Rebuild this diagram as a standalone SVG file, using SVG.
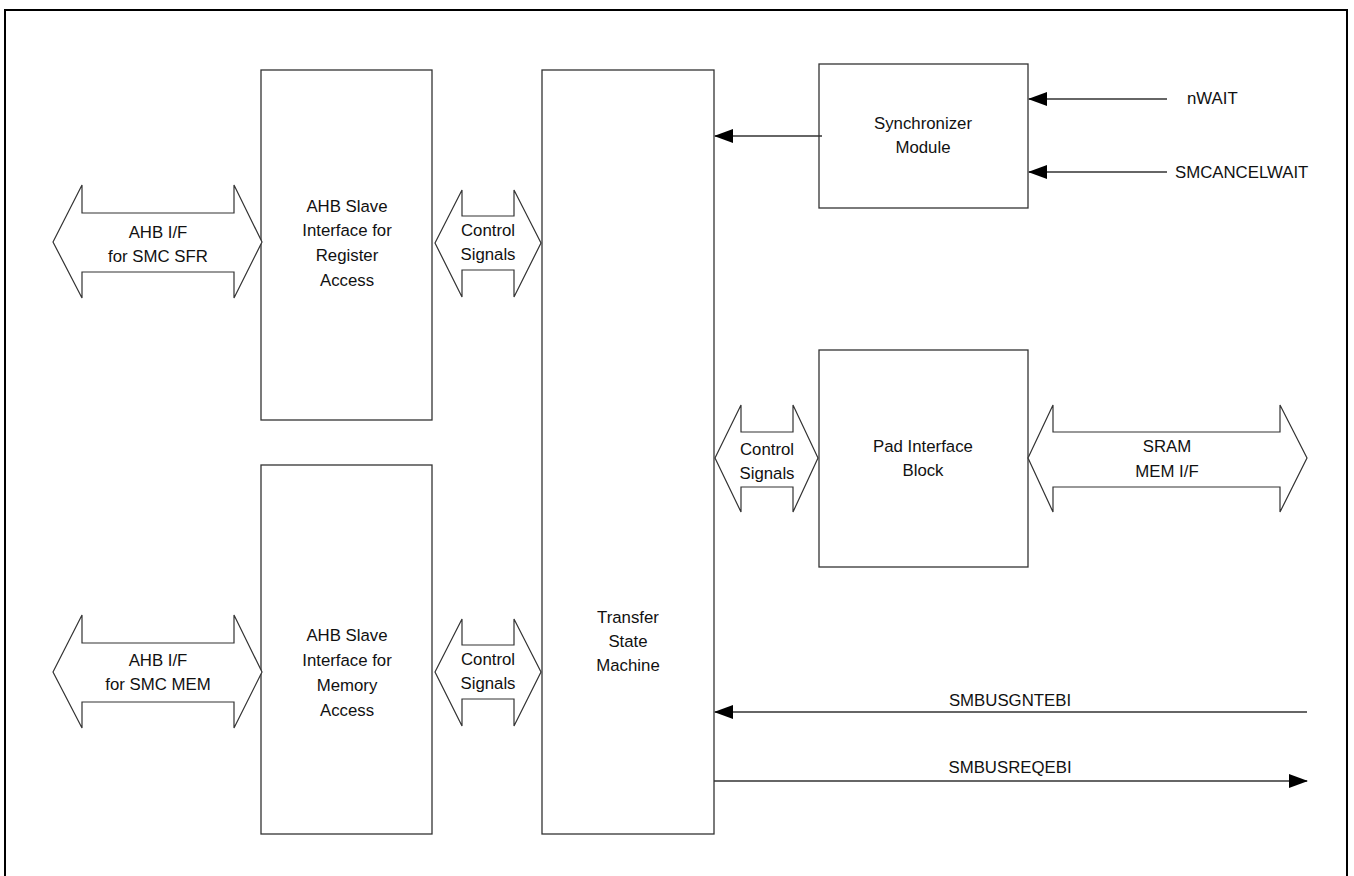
<svg xmlns="http://www.w3.org/2000/svg" width="1354" height="876" viewBox="0 0 1354 876">
<defs>
<style>
.blk{fill:#fff;stroke:#333;stroke-width:1.3}
.bus{fill:#fff;stroke:#333;stroke-width:1.2}
.ln{stroke:#333;stroke-width:1.3;fill:none}
text{font-family:"Liberation Sans",Arial,sans-serif;font-size:16.8px;fill:#111;text-anchor:middle}
.l{text-anchor:start}
</style>
<marker id="ah" markerWidth="19" markerHeight="14" refX="18" refY="7" orient="auto" markerUnits="userSpaceOnUse">
<path d="M0,0 L19,7 L0,14 Z" fill="#000"/>
</marker>
</defs>
<rect x="0" y="0" width="1354" height="876" fill="#fff"/>
<rect x="5" y="10" width="1342" height="880" fill="none" stroke="#000" stroke-width="2"/>

<g id="ahb-reg">
<rect class="blk" x="261" y="70" width="171" height="350"/>
<text x="347" y="212">AHB Slave</text>
<text x="347" y="236">Interface for</text>
<text x="347" y="261">Register</text>
<text x="347" y="286">Access</text>
</g>
<g id="ahb-mem">
<rect class="blk" x="261" y="465" width="171" height="369"/>
<text x="347" y="641">AHB Slave</text>
<text x="347" y="666">Interface for</text>
<text x="347" y="691">Memory</text>
<text x="347" y="716">Access</text>
</g>
<g id="tsm">
<rect class="blk" x="542" y="70" width="172" height="764"/>
<text x="628" y="623">Transfer</text>
<text x="628" y="647">State</text>
<text x="628" y="671">Machine</text>
</g>
<g id="sync">
<rect class="blk" x="819" y="64" width="209" height="144"/>
<text x="923" y="129">Synchronizer</text>
<text x="923" y="153">Module</text>
</g>
<g id="pad">
<rect class="blk" x="819" y="350" width="209" height="217"/>
<text x="923" y="452">Pad Interface</text>
<text x="923" y="476">Block</text>
</g>

<g id="connectors">
<path class="bus" d="M53,242 L82,185 L82,213 L234,213 L234,185 L262,242 L234,298 L234,272 L82,272 L82,298 Z"/>
<text x="158" y="238">AHB I/F</text>
<text x="158" y="262">for SMC SFR</text>
<path class="bus" d="M53,672 L82,615 L82,643 L234,643 L234,615 L262,672 L234,728 L234,702 L82,702 L82,728 Z"/>
<text x="158" y="666">AHB I/F</text>
<text x="158" y="690">for SMC MEM</text>
<path class="bus" d="M435,243 L462,190 L462,216 L514,216 L514,190 L541,243 L514,297 L514,270 L462,270 L462,297 Z"/>
<text x="488" y="236">Control</text>
<text x="488" y="260">Signals</text>
<path class="bus" d="M435,672 L462,619 L462,645 L514,645 L514,619 L541,672 L514,726 L514,699 L462,699 L462,726 Z"/>
<text x="488" y="665">Control</text>
<text x="488" y="689">Signals</text>
<path class="bus" d="M715,458 L741,405 L741,432 L793,432 L793,405 L818,458 L793,512 L793,487 L741,487 L741,512 Z"/>
<text x="767" y="455">Control</text>
<text x="767" y="479">Signals</text>
<path class="bus" d="M1028,458 L1053,405 L1053,432 L1280,432 L1280,405 L1307,458 L1280,512 L1280,487 L1053,487 L1053,512 Z"/>
<text x="1167" y="452">SRAM</text>
<text x="1167" y="477">MEM I/F</text>

<line class="ln" x1="822" y1="136" x2="715" y2="136" marker-end="url(#ah)"/>
<line class="ln" x1="1167" y1="99" x2="1029" y2="99" marker-end="url(#ah)"/>
<text class="l" x="1187" y="104">nWAIT</text>
<line class="ln" x1="1167" y1="172" x2="1029" y2="172" marker-end="url(#ah)"/>
<text class="l" x="1175" y="178">SMCANCELWAIT</text>
<line class="ln" x1="1307" y1="712" x2="715" y2="712" marker-end="url(#ah)"/>
<text x="1010" y="706">SMBUSGNTEBI</text>
<line class="ln" x1="714" y1="781" x2="1307" y2="781" marker-end="url(#ah)"/>
<text x="1010" y="773">SMBUSREQEBI</text>
</g>
</svg>
